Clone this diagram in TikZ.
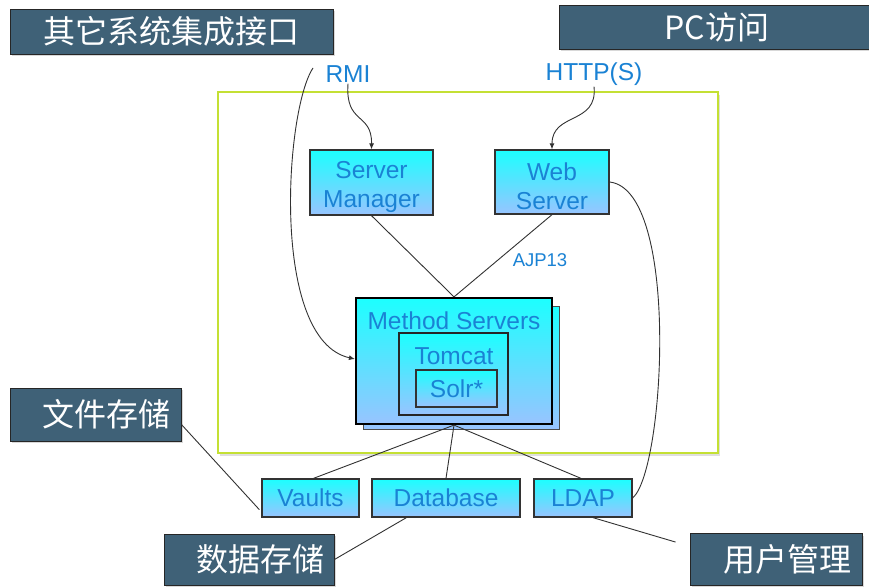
\documentclass[tikz,border=0pt]{standalone}
\usepackage{fontspec}
\setmainfont{Liberation Sans}
\newfontfamily\cjk{Noto Sans CJK SC}
\usetikzlibrary{arrows.meta,shadows,calc}

\definecolor{slate}{RGB}{63,97,119}
\definecolor{cyanT}{RGB}{28,255,255}
\definecolor{cyanB}{RGB}{152,196,255}
\definecolor{txtblue}{RGB}{26,130,212}
\definecolor{framegreen}{RGB}{196,224,52}
\definecolor{wiregray}{RGB}{50,50,50}

\begin{document}
\begin{tikzpicture}[x=1pt,y=-1pt,
  tag/.style={draw=black!85, line width=0.9pt, fill=slate, text=white,
    font=\cjk\fontsize{32}{36}\selectfont, inner sep=0pt,
    drop shadow={shadow xshift=2pt, shadow yshift=-2pt, opacity=0.3}},
  unit/.style={draw=black!80, line width=1.3pt, top color=cyanT, bottom color=cyanB,
    text=txtblue, font=\fontsize{24.5}{29}\selectfont, align=center, inner sep=0pt},
  lbl/.style={text=txtblue, font=\fontsize{24.5}{29}\selectfont, inner sep=1pt, align=center},
  frame/.style={draw=framegreen, line width=2.2pt, fill=white,
    drop shadow={shadow xshift=2pt, shadow yshift=-2.5pt, opacity=0.25}},
  wire/.style={draw=wiregray, line width=0.9pt},
  arr/.style={wire, -{Latex[length=6pt,width=5pt]}}
]
\useasboundingbox[fill=white] (0,0) rectangle (869,586);

% system boundary
\node[frame, minimum width=500pt, minimum height=361pt] (frame) at (468,272.5) {};

% external interface tags
\node[tag, minimum width=323pt, minimum height=45pt] (t1) at (171.5,31.5) {其它系统集成接口};
\node[tag, minimum width=316pt, minimum height=44pt] (t2) at (717,27.5) {PC访问};
\node[tag, minimum height=53pt, text width=149pt, inner xsep=11pt, align=right] (t3) at (95.5,414.5) {文件存储};
\node[tag, minimum height=51pt, text width=150pt, inner xsep=10pt, align=right] (t4) at (249,559.5) {数据存储};
\node[tag, minimum height=52pt, text width=150pt, inner xsep=11pt, align=right] (t5) at (776,559.5) {用户管理};

% protocol labels
\node[lbl] (rmi) at (348,74) {RMI};
\node[lbl] (http) at (594,74) {HTTP(S)};
\node[lbl, font=\fontsize{18.5}{22}\selectfont] (ajp) at (540,260) {AJP13};

% server tier
\node[unit, minimum width=123pt, minimum height=65pt] (sm) at (371.5,182.5) {};
\node[lbl] (sml) at (371.5,186.5) {Server\\Manager};
\node[unit, minimum width=114pt, minimum height=64pt] (ws) at (552,182) {};
\node[lbl] (wsl) at (552,186) {Web\\Server};

% method server stack
\node[unit, draw=black!70, line width=1pt, minimum width=196pt, minimum height=123pt] (msback) at (461,367.5) {};
\node[unit, draw=black, line width=2.2pt, minimum width=196pt, minimum height=126pt] (ms) at (454,361) {};
\node[unit, draw=black!85, line width=1.6pt, minimum width=109pt, minimum height=82pt] (tc) at (453.5,374) {};
\node[unit, line width=1.3pt, minimum width=81pt, minimum height=37pt] (so) at (456.5,388.5) {Solr*};
\node[lbl] (msl) at (454,321) {Method Servers};
\node[lbl] (tcl) at (454,356) {Tomcat};

% storage tier
\node[unit, minimum width=97pt, minimum height=38pt] (va) at (310.5,498) {Vaults};
\node[unit, minimum width=148pt, minimum height=38pt] (db) at (446,498) {Database};
\node[unit, minimum width=98pt, minimum height=38pt] (ld) at (583,498) {LDAP};

% connectors
\coordinate (rmistart) at (313,68);
\draw[arr] (rmistart) .. controls (285,110) and (270,340) .. (ms.west |- 0,359);
\draw[arr] (rmi.south) .. controls (345,125) and (372,112) .. (sm.north);
\draw[arr] (http.south) .. controls (598,125) and (552,112) .. (ws.north);
\draw[wire] (ws.east) .. controls (680,190) and (665,470) .. (ld.east);

\draw[wire] (sm.south) -- (ms.north);
\draw[wire] (ws.south) -- (ms.north);

\draw[wire] (ms.south) -- ([xshift=3pt]va.north);
\draw[wire] (ms.south) -- (db.north);
\draw[wire] (ms.south) -- ([xshift=-2pt]ld.north);

\draw[wire] ([yshift=-10pt]t3.east) -- ([xshift=-2pt,yshift=8pt]va.south west);
\draw[wire] (t4.east) -- ([xshift=35pt]db.south west);
\draw[wire] ([xshift=10pt]ld.south) -- ([xshift=-14pt,yshift=-9pt]t5.north west);
\end{tikzpicture}
\end{document}
